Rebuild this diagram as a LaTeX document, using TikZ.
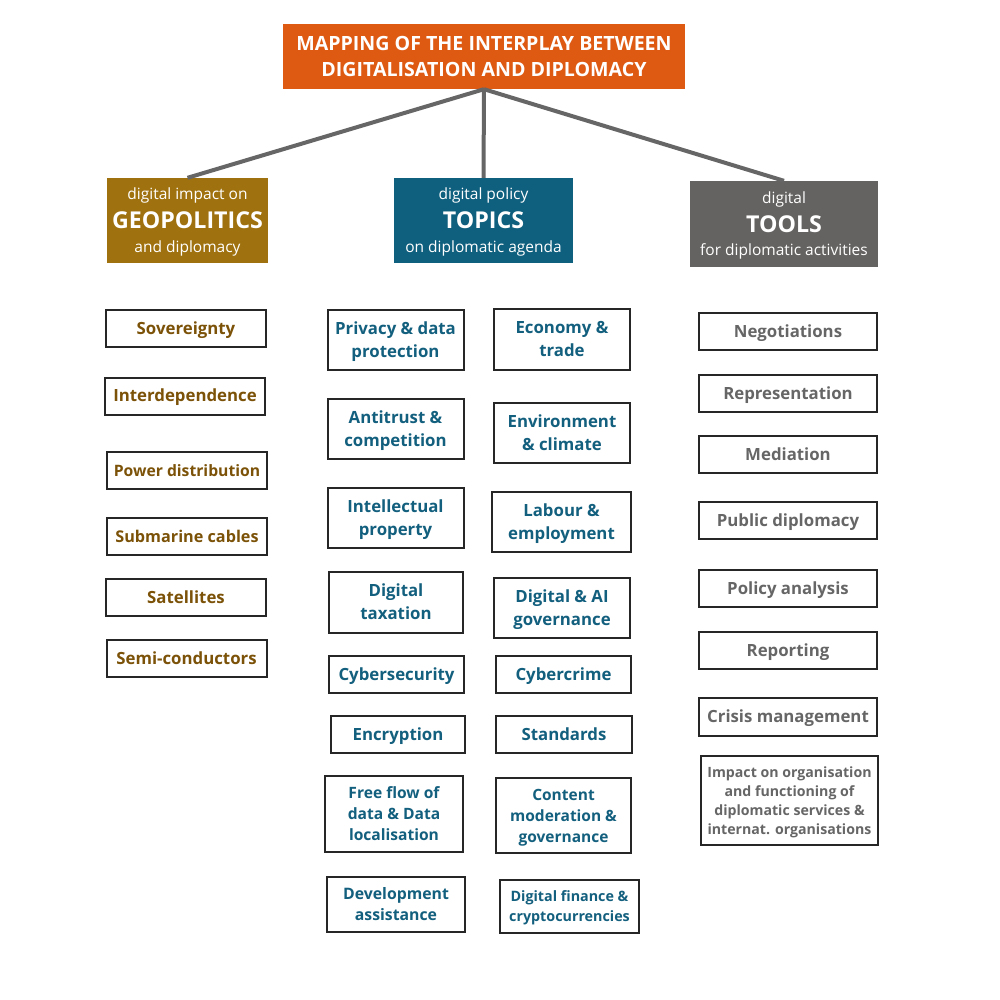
\documentclass[tikz,border=0pt]{standalone}
\usepackage{fontspec}
\setmainfont{Open Sans}
\definecolor{titleorange}{HTML}{DE5A13}
\definecolor{geofill}{HTML}{A0720F}
\definecolor{topicfill}{HTML}{0F5F7E}
\definecolor{toolfill}{HTML}{656361}
\definecolor{geotext}{HTML}{7B5208}
\definecolor{topictext}{HTML}{135F7E}
\definecolor{tooltext}{HTML}{666666}
\definecolor{linkgray}{HTML}{666666}
\newcommand{\capstrut}{\rule{0pt}{1.07em}}
\tikzset{
  capcentred/.style={execute at begin node={\capstrut},
    execute at end node={\rule[-0.36em]{0pt}{0pt}}},
  head/.style={fill=#1, text=white, align=center, inner sep=0pt, capcentred,
    font=\fontsize{15.5}{26}\selectfont},
  item/.style={draw=black!85, line width=2pt, fill=white, align=center, inner sep=0pt,
    capcentred, font=\bfseries\fontsize{16.8}{23}\selectfont},
  geoitem/.style={item, text=geotext, minimum width=160pt, minimum height=37pt},
  topicitem/.style={item, text=topictext, minimum width=136pt, minimum height=60pt},
  toolitem/.style={item, text=tooltext, minimum width=178pt, minimum height=37pt},
  link/.style={draw=linkgray, line width=4pt}
}
\newcommand{\bigword}[1]{{\bfseries\fontsize{23.2}{26}\selectfont #1}}
\begin{document}
\begin{tikzpicture}[x=1pt,y=-1pt]
  \useasboundingbox (0,0) rectangle (1000,999);
  % title
  \node[head=titleorange, minimum width=402pt, minimum height=65pt,
        font=\bfseries\fontsize{19.6}{26.3}\selectfont] (title) at (484,56.5)
        {\capstrut MAPPING OF THE INTERPLAY BETWEEN\\DIGITALISATION AND DIPLOMACY};
  % three headers
  \node[head=geofill, minimum width=161pt, minimum height=85pt] (geo) at (187.5,220.5)
        {\capstrut digital impact on\\[3.3pt]\bigword{GEOPOLITICS}\\[-2.6pt]and diplomacy};
  \node[head=topicfill, minimum width=179pt, minimum height=85pt] (topics) at (483.5,220.5)
        {\capstrut digital policy\\[3.3pt]\bigword{TOPICS}\\[-2.6pt]on diplomatic agenda};
  \node[head=toolfill, minimum width=188pt, minimum height=86pt] (tools) at (784,224)
        {\capstrut digital\\[3.3pt]\bigword{TOOLS}\\[-2.6pt]for diplomatic activities};
  \draw[link] (title.south) -- (geo.north);
  \draw[link] (title.south) -- (topics.north);
  \draw[link] (title.south) -- (tools.north);
  % geopolitics column
  \node[geoitem] (sov) at (186,328.5) {Sovereignty};
  \node[geoitem] (interdep) at (185,396) {Interdependence};
  \node[geoitem, font=\bfseries\fontsize{15.7}{20}\selectfont] (power) at (187,470.5) {Power distribution};
  \node[geoitem, font=\bfseries\fontsize{16.2}{20}\selectfont] (cables) at (187,536.5) {Submarine cables};
  \node[geoitem] (sat) at (186,597.5) {Satellites};
  \node[geoitem] (semi) at (186.5,658.5) {Semi-conductors};
  % topics, first column
  \node[topicitem] (privacy) at (395.5,340) {\capstrut Privacy \& data\\protection};
  \node[topicitem] (antitrust) at (395.5,429) {\capstrut Antitrust \&\\competition};
  \node[topicitem] (ip) at (395.5,518) {\capstrut Intellectual\\property};
  \node[topicitem, minimum width=134pt, minimum height=61pt] (tax) at (396,602.5) {\capstrut Digital\\taxation};
  \node[topicitem, minimum width=135pt, minimum height=37pt] (cybersec) at (396.5,674.5) {Cybersecurity};
  \node[topicitem, minimum width=134pt, minimum height=37pt] (encrypt) at (398,734.5) {Encryption};
  \node[topicitem, minimum width=138pt, minimum height=76pt,
        font=\bfseries\fontsize{15.6}{21}\selectfont] (freeflow) at (394,814) {\capstrut Free flow of\\data \& Data\\localisation};
  \node[topicitem, minimum width=138pt, minimum height=55pt,
        font=\bfseries\fontsize{15.8}{21}\selectfont] (devel) at (396,904.5) {\capstrut Development\\assistance};
  % topics, second column
  \node[topicitem, minimum height=61pt] (economy) at (562,339.5) {\capstrut Economy \&\\trade};
  \node[topicitem] (environ) at (562,433) {\capstrut Environment\\\& climate};
  \node[topicitem, minimum width=139pt] (labour) at (561.5,522) {\capstrut Labour \&\\employment};
  \node[topicitem] (aigov) at (562,608) {\capstrut Digital \& AI\\governance};
  \node[topicitem, minimum width=135pt, minimum height=37pt] (cybercrime) at (563.5,674.5) {Cybercrime};
  \node[topicitem, minimum height=37pt] (standards) at (564,734.5) {Standards};
  \node[topicitem, minimum width=135pt, minimum height=75pt,
        font=\bfseries\fontsize{15.5}{21}\selectfont] (content) at (563.5,815.5) {\capstrut Content\\moderation \&\\governance};
  \node[topicitem, minimum width=139pt, minimum height=53pt,
        font=\bfseries\fontsize{14.3}{20}\selectfont] (finance) at (569.5,906.5) {\capstrut Digital finance \&\\cryptocurrencies};
  % tools column
  \node[toolitem] (negot) at (788,331.5) {Negotiations};
  \node[toolitem] (repr) at (788,393.5) {Representation};
  \node[toolitem] (mediation) at (788,454.5) {Mediation};
  \node[toolitem] (public) at (788,520.5) {Public diplomacy};
  \node[toolitem] (policy) at (788,588.5) {Policy analysis};
  \node[toolitem] (report) at (788,650.5) {Reporting};
  \node[toolitem, minimum height=38pt] (crisis) at (788,717) {Crisis management};
  \node[toolitem, minimum width=177pt, minimum height=89pt,
        font=\bfseries\fontsize{14.15}{19}\selectfont] (impact) at (789.5,800.5)
        {\capstrut Impact on organisation\\and functioning of\\diplomatic services \&\\internat. organisations};
\end{tikzpicture}
\end{document}
